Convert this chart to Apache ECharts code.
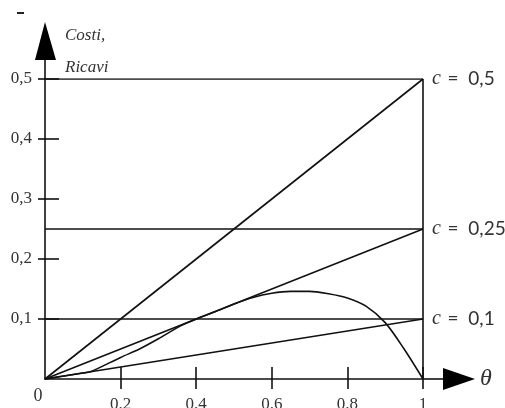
<!DOCTYPE html>
<html><head><meta charset="utf-8">
<script src="https://cdn.jsdelivr.net/npm/echarts@6/dist/echarts.min.js"></script>
<style>html,body{margin:0;padding:0;background:#fff}#c{width:505px;height:408px}</style>
</head><body><div id="c"></div>
<script>
// Cost levels c (horizontal lines and diagonals c*θ)
const costLevels = [0.5, 0.25, 0.1];
const costLabels = ['0,5', '0,25', '0,1'];
// Revenue curve
const thetaVals = [0, 0.05, 0.1, 0.12, 0.2, 0.25, 0.3, 0.36, 0.4, 0.45, 0.5, 0.55, 0.6, 0.65, 0.7, 0.75, 0.8, 0.85, 0.9, 0.95, 1];
const revenueVals = [0, 0.005, 0.01, 0.012, 0.036, 0.05, 0.067, 0.089, 0.1, 0.112, 0.125, 0.136, 0.143, 0.146, 0.146, 0.142, 0.135, 0.121, 0.094, 0.05, 0];
const xTicks = [0.2, 0.4, 0.6, 0.8, 1];
const yTicks = [0.1, 0.2, 0.3, 0.4, 0.5];

const chart = echarts.init(document.getElementById('c'));
const ink = '#111';
const series = [];
costLevels.forEach((c, i) => {
  series.push({
    type: 'line', data: [[0, c], [1, c]], symbol: 'none', silent: true,
    lineStyle: { color: ink, width: 1.6 },
    endLabel: {
      show: true, distance: 9,
      formatter: () => '{c|c}  {v|=  ' + costLabels[i] + '}',
      rich: {
        c: { fontFamily: 'Liberation Serif', fontStyle: 'italic', fontSize: 20, color: '#333' },
        v: { fontFamily: 'Lato', fontSize: 19, color: '#333' }
      }
    }
  });
  series.push({
    type: 'line', data: [[0, 0], [1, c]], symbol: 'none', silent: true,
    lineStyle: { color: ink, width: 1.6 }
  });
});
series.push({
  type: 'line', data: [[1, 0], [1, costLevels[0]]], symbol: 'none', silent: true,
  lineStyle: { color: ink, width: 1.6 }
});
series.push({
  type: 'line', data: thetaVals.map((t, i) => [t, revenueVals[i]]), symbol: 'none', silent: true,
  smooth: 0.3, lineStyle: { color: ink, width: 1.6 }
});

const labelFont = { fontFamily: 'Liberation Serif', fontSize: 17, color: '#333' };
chart.setOption({
  animation: false,
  grid: { left: 45, right: 82, top: 79, bottom: 29, outerBoundsMode: 'none', containLabel: false },
  xAxis: [{
    type: 'value', min: 0, max: 1, interval: 0.2,
    splitLine: { show: false },
    axisLine: { lineStyle: { color: ink, width: 1.6 } },
    axisTick: { customValues: xTicks, length: 10, lineStyle: { color: ink, width: 1.6 } },
    axisLabel: Object.assign({ customValues: xTicks, margin: 17, formatter: v => String(v) }, labelFont),
    name: 'θ', nameLocation: 'end', nameGap: 57,
    nameTextStyle: { fontFamily: 'Liberation Serif', fontStyle: 'italic', fontSize: 24, color: '#333' }
  }, {
    type: 'value', min: 0, max: 1, interval: 0.2, position: 'bottom',
    splitLine: { show: false }, axisLine: { show: false }, axisLabel: { show: false },
    axisTick: { customValues: xTicks, inside: true, length: 12, lineStyle: { color: ink, width: 1.6 } }
  }],
  yAxis: [{
    type: 'value', min: 0, max: 0.5, interval: 0.1,
    splitLine: { show: false },
    axisLine: { lineStyle: { color: ink, width: 1.6 } },
    axisTick: { customValues: yTicks, length: 7, lineStyle: { color: ink, width: 1.6 } },
    axisLabel: Object.assign({ customValues: yTicks, margin: 13, formatter: v => String(v).replace('.', ',') }, labelFont),
    name: 'Costi,\nRicavi', nameLocation: 'end', nameGap: -5,
    nameTextStyle: { fontFamily: 'Liberation Serif', fontStyle: 'italic', fontSize: 17, color: '#333',
      align: 'left', verticalAlign: 'bottom', lineHeight: 32, padding: [0, 0, 0, 20] }
  }, {
    type: 'value', min: 0, max: 0.5, interval: 0.1, position: 'left',
    splitLine: { show: false }, axisLine: { show: false }, axisLabel: { show: false },
    axisTick: { customValues: yTicks, inside: true, length: 14, lineStyle: { color: ink, width: 1.6 } }
  }],
  series: series
});

// axis arrows (decoration) placed from the axes' own pixel positions
const o = chart.convertToPixel({ gridIndex: 0 }, [0, 0]);
const e = chart.convertToPixel({ gridIndex: 0 }, [1, 0.5]);
chart.setOption({
  graphic: [
    { type: 'line', shape: { x1: o[0], y1: e[1], x2: o[0], y2: e[1] - 20 }, style: { stroke: ink, lineWidth: 1.6 } },
    { type: 'polygon', shape: { points: [[o[0], e[1] - 57], [o[0] - 10, e[1] - 19], [o[0] + 11, e[1] - 19]] }, style: { fill: '#000' } },
    { type: 'line', shape: { x1: e[0], y1: o[1], x2: e[0] + 22, y2: o[1] }, style: { stroke: ink, lineWidth: 1.6 } },
    { type: 'polygon', shape: { points: [[e[0] + 52, o[1]], [e[0] + 20, o[1] - 11], [e[0] + 20, o[1] + 11]] }, style: { fill: '#000' } },
    { type: 'text', x: o[0] - 7, y: o[1] + 17, style: { text: '0', fontFamily: 'Liberation Serif', fontSize: 18, fill: '#333', align: 'center', verticalAlign: 'middle' } },
    { type: 'rect', shape: { x: 17, y: 12, width: 7, height: 2 }, style: { fill: '#222' } }
  ]
});
</script></body></html>
